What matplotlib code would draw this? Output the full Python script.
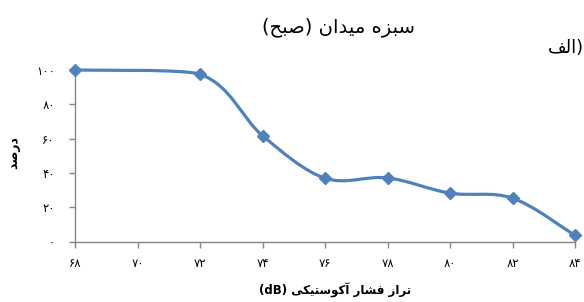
import matplotlib
matplotlib.use("Agg")
import matplotlib.pyplot as plt
from matplotlib.path import Path
from matplotlib.patches import PathPatch
import numpy as np

# ---- data ----
x_vals = [68, 72, 74, 76, 78, 80, 82, 84]
y_vals = [100, 97.5, 61.7, 36.9, 37.1, 28.2, 25.3, 3.5]
x_ticks = [68, 70, 72, 74, 76, 78, 80, 82, 84]
y_ticks = [0, 20, 40, 60, 80, 100]
title_text = "سبزه میدان (صبح)"
panel_text = "الف"
ylabel_text = "درصد"
xlabel_text = "تراز فشار آکوستیکی"
xlabel_unit = "(dB)"

# ---- minimal Persian shaping (presentation forms) ----
FORMS = {
    'ا': (0xFE8D, 0xFE8E, None, None), 'آ': (0xFE81, 0xFE82, None, None),
    'ب': (0xFE8F, 0xFE90, 0xFE91, 0xFE92), 'ت': (0xFE95, 0xFE96, 0xFE97, 0xFE98),
    'ح': (0xFEA1, 0xFEA2, 0xFEA3, 0xFEA4), 'د': (0xFEA9, 0xFEAA, None, None),
    'ر': (0xFEAD, 0xFEAE, None, None), 'ز': (0xFEAF, 0xFEB0, None, None),
    'س': (0xFEB1, 0xFEB2, 0xFEB3, 0xFEB4), 'ش': (0xFEB5, 0xFEB6, 0xFEB7, 0xFEB8),
    'ص': (0xFEB9, 0xFEBA, 0xFEBB, 0xFEBC), 'ف': (0xFED1, 0xFED2, 0xFED3, 0xFED4),
    'ل': (0xFEDD, 0xFEDE, 0xFEDF, 0xFEE0), 'م': (0xFEE1, 0xFEE2, 0xFEE3, 0xFEE4),
    'ن': (0xFEE5, 0xFEE6, 0xFEE7, 0xFEE8), 'ه': (0xFEE9, 0xFEEA, 0xFEEB, 0xFEEC),
    'و': (0xFEED, 0xFEEE, None, None), 'ی': (0xFBFC, 0xFBFD, 0xFBFE, 0xFBFF),
    'ک': (0xFB8E, 0xFB8F, 0xFB90, 0xFB91),
}

def joins_next(c):
    return c in FORMS and FORMS[c][2] is not None

def shape(text):
    out = []
    n = len(text)
    for i, c in enumerate(text):
        if c not in FORMS:
            out.append(c)
            continue
        prev_j = i > 0 and joins_next(text[i - 1])
        next_j = i < n - 1 and text[i + 1] in FORMS and joins_next(c)
        iso, fin, ini, med = FORMS[c]
        if prev_j and next_j:
            cp = med
        elif prev_j:
            cp = fin
        elif next_j:
            cp = ini
        else:
            cp = iso
        out.append(chr(cp))
    vis = ''.join(reversed(out))
    return vis.translate(str.maketrans('()', ')('))

def fa_digits(v):
    return str(v).translate(str.maketrans('0123456789', '۰۱۲۳۴۵۶۷۸۹'))

# ---- figure ----
fig = plt.figure(figsize=(5.84, 3.02), dpi=100)
ax = fig.add_axes([75 / 584, 1 - 241.5 / 302, 500 / 584, (241.5 - 70) / 302])
blue = '#4F81BD'
gray = '#868686'

# Excel-like smoothed line (Bezier through the points)
px = np.array(x_vals, float)
py = np.array(y_vals, float)
n = len(px)
P = np.column_stack([px, py])
tang = []
for i in range(n):
    a = P[max(i - 1, 0)]
    b = P[min(i + 1, n - 1)]
    tang.append(b - a)
h = np.diff(px)
verts = [tuple(P[0])]
codes = [Path.MOVETO]
for i in range(n - 1):
    f_out = 1 / 6.0
    if i > 0:
        f_out *= min(1.0, h[i - 1] / h[i])
    f_in = 1 / 6.0
    if i + 1 < n - 1:
        f_in *= min(1.0, h[i + 1] / h[i])
    c1 = P[i] + tang[i] * f_out
    c2 = P[i + 1] - tang[i + 1] * f_in
    verts += [tuple(c1), tuple(c2), tuple(P[i + 1])]
    codes += [Path.CURVE4] * 3
ax.add_patch(PathPatch(Path(verts, codes), facecolor='none', edgecolor=blue,
                       lw=2.3, capstyle='round', joinstyle='round', zorder=3,
                       clip_on=False))
ax.plot(x_vals, y_vals, linestyle='none', marker='D', markersize=6.5,
        color=blue, zorder=4, clip_on=False)

ax.set_xlim(68, 84)
ax.set_ylim(0, 100)
for s in ['top', 'right']:
    ax.spines[s].set_visible(False)
for s in ['left', 'bottom']:
    ax.spines[s].set_color(gray)
    ax.spines[s].set_linewidth(1.0)

font = ['DejaVu Sans']
ax.set_xticks(x_ticks)
ax.set_xticklabels([fa_digits(v) for v in x_ticks], fontsize=8.5, family=font)
ax.set_yticks(y_ticks)
ax.set_yticklabels([fa_digits(v) for v in y_ticks], fontsize=8.5, family=font)
ax.tick_params(axis='x', direction='out', length=4, width=1, color=gray, pad=7)
ax.tick_params(axis='y', direction='out', length=4.5, width=1, color=gray, pad=10)

fig.text(338 / 584, 1 - 27 / 302, shape(title_text), ha='center', va='center',
         fontsize=14, family=font)
fig.text(584 / 584, 1 - 48 / 302, shape(panel_text) + ')', ha='right',
         va='center', fontsize=13, family=font)
fig.text(14 / 584, 1 - 153 / 302, shape(ylabel_text), rotation=90, ha='center',
         va='center', fontsize=9, fontweight='bold', family=font)
fig.text(335 / 584, 1 - 290 / 302, xlabel_unit + ' ' + shape(xlabel_text),
         ha='center', va='center', fontsize=8.5, fontweight='bold', family=font)

fig.savefig('out.png', dpi=100)
